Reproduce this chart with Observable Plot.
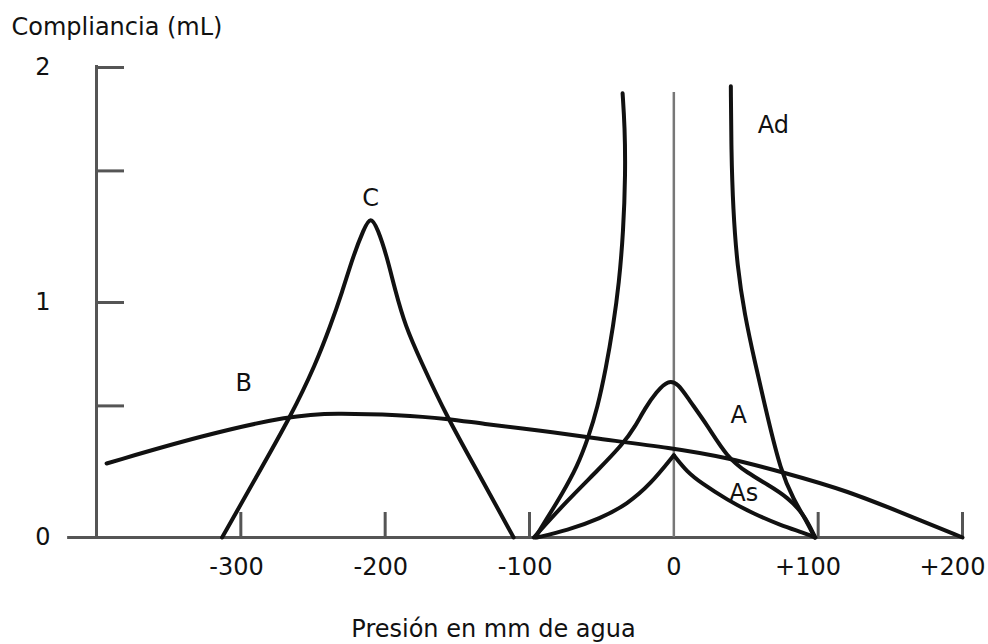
<!DOCTYPE html>
<html>
<head>
<meta charset="utf-8">
<script src="https://cdn.jsdelivr.net/npm/d3@7"></script>
<script src="https://cdn.jsdelivr.net/npm/@observablehq/plot@0.6"></script>
<style>
  body { margin: 0; background: #fff; }
  svg { display: block; }
</style>
</head>
<body>
<div id="chart"></div>
<script>
// ---- tick values and labels ----
const xTicks = [-300, -200, -100, 0, 100, 200];
const xTickLabels = ["-300", "-200", "-100", "0", "+100", "+200"];
const yTicks = [0, 0.56, 1, 1.56, 2];
const yTickLabels = ["0", "", "1", "", "2"];

// ---- curve B (flat) ----
const bX = [-393, -327, -265, -235, -190, -156, -134, -92, -60, 0, 37, 76, 120, 166, 200];
const bY = [0.315, 0.434, 0.52, 0.53, 0.522, 0.505, 0.485, 0.455, 0.426, 0.38, 0.34, 0.277, 0.2, 0.085, 0];

// ---- curve C (negative pressure peak) ----
const cX = [-313, -290, -265, -248, -238, -230, -222, -215, -210, -205, -199, -193, -186, -176, -157, -135, -111];
const cY = [0, 0.25, 0.52, 0.74, 0.90, 1.04, 1.20, 1.31, 1.37, 1.31, 1.20, 1.05, 0.90, 0.76, 0.51, 0.27, 0];

// ---- curve A (normal) ----
const aX = [-97, -75, -52, -35, -27, -20, -12, -4, 3, 10, 23, 37, 51, 65, 79, 90, 98];
const aY = [0, 0.15, 0.29, 0.40, 0.47, 0.55, 0.62, 0.67, 0.655, 0.59, 0.48, 0.34, 0.275, 0.225, 0.17, 0.10, 0];

// ---- curve As (shallow), two halves meeting at the cusp ----
const asLeftX = [-95, -74, -51, -32, -16, 0];
const asLeftY = [0, 0.03, 0.08, 0.143, 0.228, 0.35];
const asRightX = [0, 9, 19, 37, 55, 74, 90, 98];
const asRightY = [0.35, 0.28, 0.232, 0.16, 0.102, 0.052, 0.02, 0];

// ---- curve Ad (deep), two branches (ordered bottom to top) ----
const adLeftX = [-96, -88, -78, -67, -59, -53, -47, -42, -38, -35, -33.5, -34, -35.5];
const adLeftY = [0, 0.08, 0.18, 0.30, 0.43, 0.55, 0.72, 0.90, 1.08, 1.30, 1.55, 1.75, 1.89];
const adRightX = [97.5, 92, 83, 74, 65, 56, 49, 44, 41, 39.8, 39.5];
const adRightY = [0, 0.07, 0.16, 0.285, 0.51, 0.75, 0.95, 1.15, 1.40, 1.65, 1.92];

// ---- curve labels ----
const curveNames = ["C", "B", "Ad", "A", "As"];
const curveLabelX = [-210, -298, 69, 45, 48.4];
const curveLabelY = [1.443, 0.655, 1.753, 0.52, 0.19];

// ---- axis titles ----
const yTitle = "Compliancia (mL)";
const xTitle = "Presión en mm de agua";

// ---- build tables ----
const pts = (xs, ys) => xs.map((x, i) => ({x, y: ys[i]}));
const curves = [
  pts(bX, bY), pts(cX, cY), pts(aX, aY),
  pts(asLeftX, asLeftY), pts(asRightX, asRightY),
  pts(adLeftX, adLeftY), pts(adRightX, adRightY)
];
const xLabelData = xTicks.map((v, i) => {
  const lab = xTickLabels[i];
  const m = lab.match(/^([+-]?)(.*)$/);
  return {v, sign: m[1], digits: m[2]};
});
const yLabelData = yTicks.map((v, i) => ({v, t: yTickLabels[i]})).filter(d => d.t);
const labelData = curveNames.map((n, i) => ({n, x: curveLabelX[i], y: curveLabelY[i]}));

const W = 988, H = 644;
const mL = 96, mR = 26, mT = 67, mB = 107;
const frameW = W - mL - mR, frameH = H - mT - mB;
const axisColor = "#555";
const ink = "#111";
const FONT = "DejaVu Sans, Verdana, sans-serif";
const fs = 24;

const chart = Plot.plot({
  width: W,
  height: H,
  marginLeft: mL,
  marginRight: mR,
  marginTop: mT,
  marginBottom: mB,
  style: {fontFamily: FONT, background: "#fff"},
  x: {domain: [-400, 200], axis: null},
  y: {domain: [0, 2], axis: null},
  marks: [
    // axes
    Plot.ruleY([0], {x1: -420, x2: 200, stroke: axisColor, strokeWidth: 3}),
    Plot.ruleX([-400], {y1: 0, y2: 2.008, stroke: axisColor, strokeWidth: 3}),
    Plot.ruleX([0], {y1: 0, y2: 1.894, stroke: "#777", strokeWidth: 2.5}),
    Plot.tickY(yTicks.filter(d => d !== 0), {y: d => d, insetRight: frameW - 28, stroke: axisColor, strokeWidth: 3}),
    Plot.tickX(xTicks.filter(d => d !== 0), {x: d => d, insetTop: frameH - 25, stroke: axisColor, strokeWidth: 3}),
    // curves
    ...curves.map(c => Plot.line(c, {x: "x", y: "y", curve: "basis", stroke: ink, strokeWidth: 4, strokeLinecap: "round", strokeLinejoin: "round"})),
    // tick labels
    Plot.text(yLabelData, {x: () => -400, y: "v", text: "t", textAnchor: "end", dx: -46, fontSize: fs, fill: ink, fontFamily: FONT}),
    Plot.text(xLabelData, {x: "v", y: () => 0, text: "digits", textAnchor: "middle", dy: 30, fontSize: fs, fill: ink, fontFamily: FONT}),
    Plot.text(xLabelData.filter(d => d.sign), {x: "v", y: () => 0, text: "sign", textAnchor: "end", dx: -23, dy: 30, fontSize: fs, fill: ink, fontFamily: FONT}),
    // curve labels
    Plot.text(labelData, {x: "x", y: "y", text: "n", textAnchor: "middle", fontSize: fs, fill: ink, fontFamily: FONT}),
    // axis titles
    Plot.text([yTitle], {frameAnchor: "top-left", text: d => d, textAnchor: "start", lineAnchor: "middle", dx: -85, dy: -40, fontSize: fs, fill: ink, fontFamily: FONT}),
    Plot.text([xTitle], {frameAnchor: "bottom", text: d => d, textAnchor: "middle", lineAnchor: "middle", dx: -36, dy: 92, fontSize: fs, fill: ink, fontFamily: FONT})
  ]
});
document.getElementById("chart").appendChild(chart);
</script>
</body>
</html>
